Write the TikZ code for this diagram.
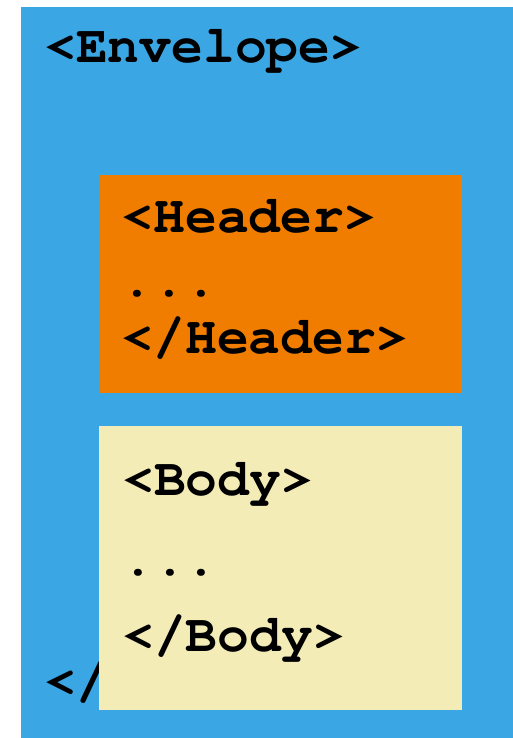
\documentclass[tikz,border=0pt]{standalone}
\usepackage[T1]{fontenc}
\definecolor{envblue}{RGB}{58,166,227}
\definecolor{hdrorange}{RGB}{240,125,0}
\definecolor{bodycream}{RGB}{244,236,183}
\newcommand{\tagfont}{\fontfamily{pcr}\fontseries{b}\fontsize{53}{60}\selectfont}
\begin{document}
\begin{tikzpicture}[x=1pt, y=-1pt,
    tag/.style={anchor=base west, inner sep=0pt, font=\tagfont}]

    \useasboundingbox (0,0) rectangle (513,738);

    % --- Envelope (outer) ---
    \fill[envblue] (21,7) rectangle (513,738);
    \node[tag] (envopen) at (44,63) {<Envelope>};
    \node[tag] (envclose) at (44,697) {</Envelope>};

    % --- Header block ---
    \fill[hdrorange] (99.5,175.5) rectangle (461.5,392.5);
    \node[tag] (hdropen) at (121.5,232.5) {<Header>};
    \node[tag] (hdrdots) at (121.5,296.5) {...};
    \node[tag] (hdrclose) at (121.5,353) {</Header>};

    % --- Body block (covers the closing envelope tag) ---
    \fill[bodycream] (99,426) rectangle (462,709.5);
    \node[tag] (bodyopen) at (122,495) {<Body>};
    \node[tag] (bodydots) at (122,575) {...};
    \node[tag] (bodyclose) at (122,651.5) {</Body>};

\end{tikzpicture}
\end{document}
